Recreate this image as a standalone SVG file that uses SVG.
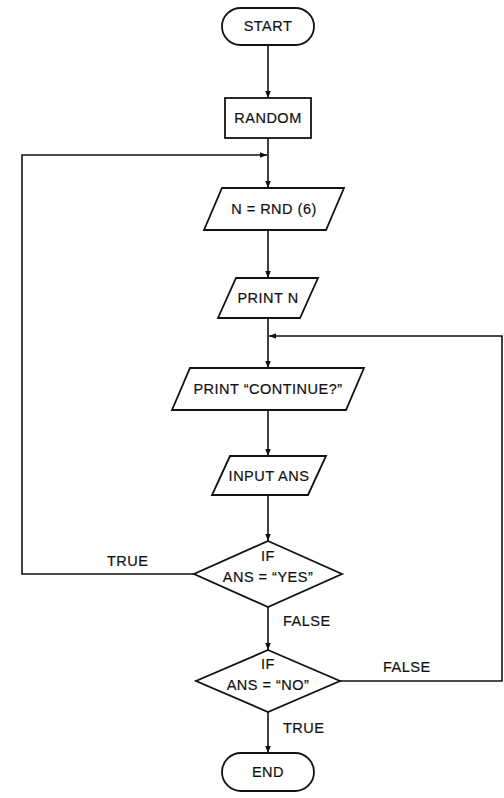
<svg xmlns="http://www.w3.org/2000/svg" width="504" height="798" viewBox="0 0 504 798">
  <defs>
    <marker id="ah" viewBox="0 0 10 10" refX="10" refY="5" markerWidth="7" markerHeight="7" markerUnits="userSpaceOnUse" orient="auto">
      <path d="M0,1 L10,5 L0,9 z" fill="#111"/>
    </marker>
    <style>
      .shape { fill: #fff; stroke: #111; stroke-width: 1.8; }
      .edge { fill: none; stroke: #111; stroke-width: 1.6; }
      .arrow { marker-end: url(#ah); }
      text { font-family: "Liberation Sans", Arial, sans-serif; font-size: 14.5px; fill: #111; stroke: #111; stroke-width: 0.2; letter-spacing: 0.5px; text-anchor: middle; }
      .lbl { text-anchor: start; }
    </style>
  </defs>
  <rect width="504" height="798" fill="#fff"/>

  <g id="connectors">
    <line class="edge arrow" x1="268" y1="45" x2="268" y2="98"/>
    <line class="edge arrow" x1="268" y1="138" x2="268" y2="188"/>
    <line class="edge arrow" x1="268" y1="230" x2="268" y2="278"/>
    <line class="edge arrow" x1="268" y1="318" x2="268" y2="368"/>
    <line class="edge arrow" x1="268" y1="410" x2="268" y2="456"/>
    <line class="edge arrow" x1="268" y1="495" x2="268" y2="541"/>
    <line class="edge arrow" x1="268" y1="607" x2="268" y2="650"/>
    <line class="edge arrow" x1="268" y1="712" x2="268" y2="753"/>
    <polyline class="edge arrow" points="195,574 22,574 22,155 267,155"/>
    <polyline class="edge arrow" points="340,681 502,681 502,336 269,336"/>
    <text class="lbl" x="107" y="566">TRUE</text>
    <text class="lbl" x="283" y="626">FALSE</text>
    <text class="lbl" x="383" y="672">FALSE</text>
    <text class="lbl" x="283" y="733">TRUE</text>
  </g>

  <g id="start">
    <rect class="shape" x="222" y="8" width="92" height="37" rx="18.5" ry="18.5"/>
    <text x="268" y="31">START</text>
  </g>

  <g id="random">
    <rect class="shape" x="225" y="98" width="86" height="40"/>
    <text x="268" y="123">RANDOM</text>
  </g>

  <g id="n-rnd">
    <polygon class="shape" points="222,188 344,188 326,230 204,230"/>
    <text x="274" y="214">N = RND (6)</text>
  </g>

  <g id="print-n">
    <polygon class="shape" points="236,278 318,278 300,318 218,318"/>
    <text x="268" y="303">PRINT N</text>
  </g>

  <g id="print-continue">
    <polygon class="shape" points="190,368 364,368 346,410 172,410"/>
    <text x="268" y="394">PRINT “CONTINUE?”</text>
  </g>

  <g id="input-ans">
    <polygon class="shape" points="230,456 326,456 308,495 212,495"/>
    <text x="269" y="481">INPUT ANS</text>
  </g>

  <g id="if-yes">
    <polygon class="shape" points="268,541 342,574 268,607 194,574"/>
    <text x="268" y="561">IF</text>
    <text x="268" y="582">ANS = “YES”</text>
  </g>

  <g id="if-no">
    <polygon class="shape" points="268,650 340,681 268,712 196,681"/>
    <text x="268" y="669">IF</text>
    <text x="268" y="690">ANS = “NO”</text>
  </g>

  <g id="end">
    <rect class="shape" x="222" y="753" width="92" height="38" rx="19" ry="19"/>
    <text x="268" y="777">END</text>
  </g>
</svg>
